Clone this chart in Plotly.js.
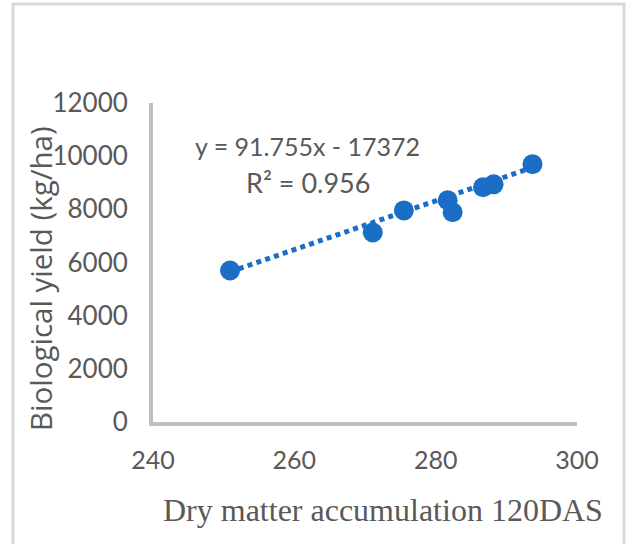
<!DOCTYPE html>
<html>
<head>
<meta charset="utf-8">
<script src="https://cdn.plot.ly/plotly-3.0.1.min.js"></script>
<style>html,body{margin:0;padding:0;background:#fff;}#chart{width:629px;height:544px;}</style>
</head>
<body>
<div id="chart"></div>
<script>
// Data
const dryMatter = [250.9, 271.1, 275.5, 281.7, 282.4, 286.7, 288.2, 293.7];
const bioYield  = [5700, 7130, 7960, 8340, 7890, 8830, 8940, 9700];
const trendCoef = [91.755, -17372]; // slope, intercept
const r2Value = 0.956;
const xTicks = [240, 260, 280, 300];
const yTicks = [0, 2000, 4000, 6000, 8000, 10000, 12000];

const xMin = Math.min(...dryMatter), xMax = Math.max(...dryMatter);
const trendX = [xMin, xMax];
const trendY = trendX.map(v => trendCoef[0] * v + trendCoef[1]);

const W = 629, H = 544;
const px = v => v / W;
const py = v => (H - v) / H;

const grey = '#595959';
const blue = '#1a6ec6';
const sans = 'Lato, "Open Sans", sans-serif';
const serif = '"Liberation Serif", "DejaVu Serif", serif';

const traces = [
  {
    x: trendX, y: trendY, type: 'scatter', mode: 'lines',
    line: {color: blue, width: 5, dash: '5px,4.3px'},
    hoverinfo: 'skip', showlegend: false
  },
  {
    x: dryMatter, y: bioYield, type: 'scatter', mode: 'markers',
    marker: {color: blue, size: 20, line: {width: 0}},
    showlegend: false
  }
];

const layout = {
  width: W, height: H,
  margin: {l: 0, r: 0, t: 0, b: 0},
  paper_bgcolor: '#ffffff', plot_bgcolor: '#ffffff',
  showlegend: false,
  xaxis: {
    domain: [px(153), px(577)],
    range: [240, 300],
    tickvals: xTicks, ticktext: xTicks.map(String),
    showgrid: false, zeroline: false,
    showline: true, linecolor: '#bfbfbf', linewidth: 4,
    ticks: '', ticklabelstandoff: 13,
    tickfont: {family: sans, size: 25, color: grey}
  },
  yaxis: {
    domain: [py(422), py(103)],
    range: [0, 12000],
    tickvals: yTicks, ticktext: yTicks.map(String),
    showgrid: false, zeroline: false,
    showline: true, linecolor: '#bfbfbf', linewidth: 4,
    ticks: '', ticklabelstandoff: 16,
    tickfont: {family: sans, size: 26, color: grey}
  },
  shapes: [
    {type: 'rect', xref: 'paper', yref: 'paper',
     x0: px(13), x1: px(624), y0: py(600), y1: py(4),
     line: {color: '#d9d9d9', width: 3}, fillcolor: 'rgba(0,0,0,0)', layer: 'below'}
  ],
  annotations: [
    {xref: 'paper', yref: 'paper', x: px(307), y: py(146), xanchor: 'center', yanchor: 'middle',
     text: 'y = ' + trendCoef[0] + 'x - ' + Math.abs(trendCoef[1]), showarrow: false,
     font: {family: sans, size: 25, color: grey}},
    {xref: 'paper', yref: 'paper', x: px(308), y: py(182), xanchor: 'center', yanchor: 'middle',
     text: 'R² = ' + r2Value, showarrow: false,
     font: {family: sans, size: 27, color: grey}},
    {xref: 'paper', yref: 'paper', x: px(40), y: py(279), xanchor: 'center', yanchor: 'middle',
     text: 'Biological yield (kg/ha)', textangle: -90, showarrow: false,
     font: {family: '"Open Sans", Lato, sans-serif', size: 29.5, color: grey}},
    {xref: 'paper', yref: 'paper', x: px(383), y: py(510), xanchor: 'center', yanchor: 'middle',
     text: 'Dry matter accumulation 120DAS', showarrow: false,
     font: {family: serif, size: 32, color: grey}},
    {xref: 'paper', yref: 'paper', x: px(12), y: py(535.5), xanchor: 'left', yanchor: 'top',
     text: 'Fig. 4: Relation between', showarrow: false,
     font: {family: serif, size: 28, color: '#000000'}},
    {xref: 'paper', yref: 'paper', x: px(505), y: py(535.5), xanchor: 'left', yanchor: 'top',
     text: 'accumulation (120', showarrow: false,
     font: {family: serif, size: 28, color: '#000000'}}
  ]
};

Plotly.newPlot('chart', traces, layout, {displayModeBar: false, staticPlot: true});
</script>
</body>
</html>
